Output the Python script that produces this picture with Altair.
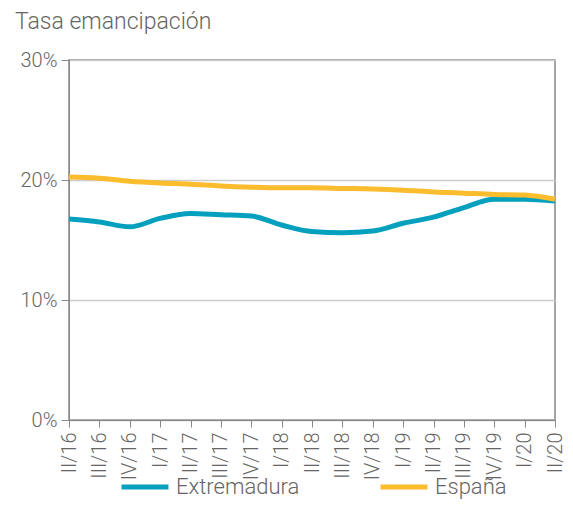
import altair as alt
import pandas as pd

periods = ["II/16", "III/16", "IV/16", "I/17", "II/17", "III/17", "IV/17", "I/18",
           "II/18", "III/18", "IV/18", "I/19", "II/19", "III/19", "IV/19", "I/20", "II/20"]
extremadura = [16.75, 16.5, 16.1, 16.8, 17.2, 17.1, 17.0, 16.25,
               15.7, 15.6, 15.75, 16.4, 16.9, 17.7, 18.4, 18.4, 18.25]
espana = [20.25, 20.15, 19.9, 19.75, 19.65, 19.5, 19.4, 19.35,
          19.35, 19.3, 19.25, 19.15, 19.0, 18.9, 18.8, 18.75, 18.4]
series = ["Extremadura", "España"]
colors = ["#06a0bf", "#fbbc2e"]

rows = []
for i, p in enumerate(periods):
    rows.append({"periodo": p, "serie": series[0], "valor": extremadura[i], "orden": 0})
    rows.append({"periodo": p, "serie": series[1], "valor": espana[i], "orden": 1})
df = pd.DataFrame(rows)

FONT = "Roboto"
GRAY = "#666666"

chart = alt.Chart(df).mark_line(interpolate="monotone", strokeWidth=5).encode(
    x=alt.X("periodo:N", sort=periods, title=None,
            scale=alt.Scale(type="point", padding=0),
            axis=alt.Axis(labelAngle=-90, labelFontSize=20, labelColor=GRAY, labelFont=FONT,
                          domainColor="#888888", tickColor="#888888", tickSize=7,
                          labelPadding=5, grid=False, labelFontWeight=300)),
    y=alt.Y("valor:Q", title=None,
            scale=alt.Scale(domain=[0, 30], nice=False),
            axis=alt.Axis(values=[0, 10, 20, 30], labelExpr="datum.value + '%'",
                          labelFontSize=20, labelColor=GRAY, labelFont=FONT, labelFontWeight=300,
                          domainColor="#888888", tickColor="#888888", tickSize=8,
                          labelPadding=4, gridColor="#cccccc", gridWidth=1.5)),
    color=alt.Color("serie:N", sort=series,
                    scale=alt.Scale(domain=series, range=colors),
                    legend=alt.Legend(title=None, orient="none", direction="horizontal",
                                      legendX=50, legendY=401,
                                      symbolType="stroke", symbolSize=2200, symbolStrokeWidth=5,
                                      labelFontSize=22, labelColor=GRAY, labelFont=FONT,
                                      labelFontWeight=300, columnPadding=70, labelOffset=5)),
    order="orden:Q",
).properties(
    width=486, height=360,
    autosize=alt.AutoSizeParams(type="none"),
    padding={"left": 61, "top": 52, "right": 10, "bottom": 79},
    title=alt.TitleParams("Tasa emancipación", anchor="start", frame="group", dx=-54, offset=16,
                          fontSize=23, color=GRAY, font=FONT, fontWeight=300),
).configure_view(stroke="#888888", strokeWidth=1.5)

chart.save("out.html", embed_options={"renderer": "svg", "actions": False})
